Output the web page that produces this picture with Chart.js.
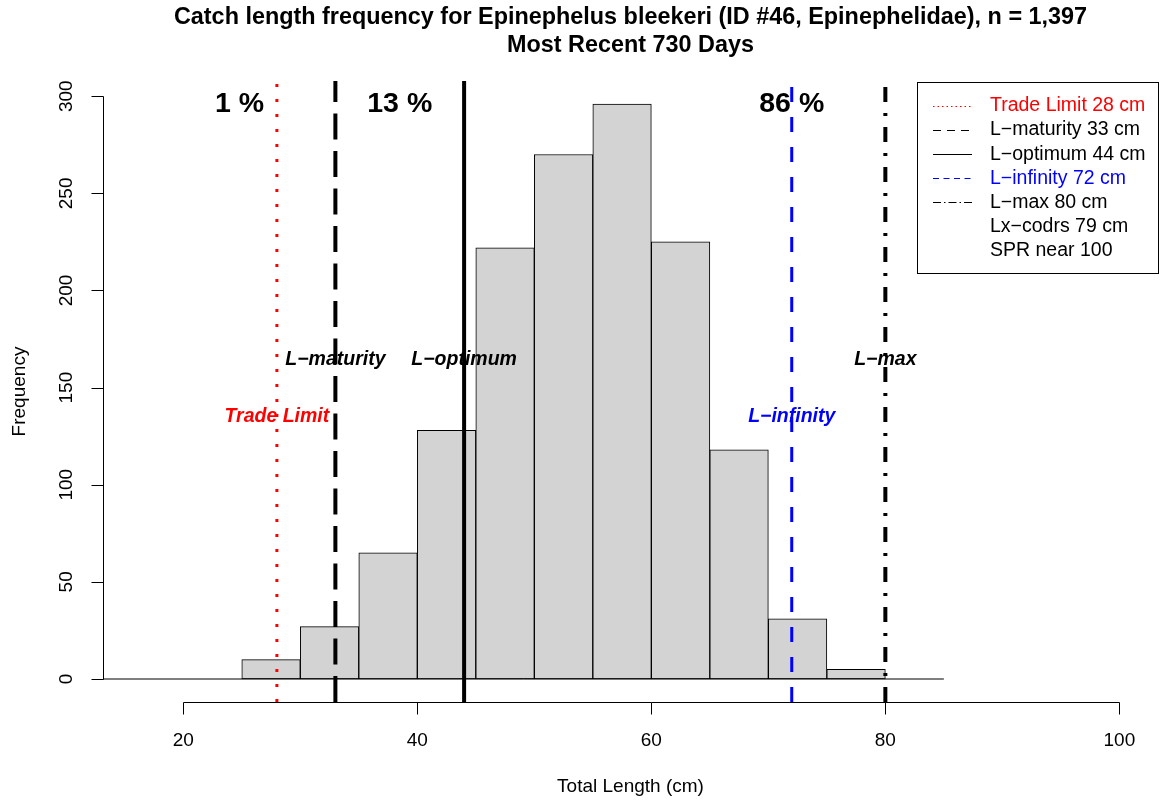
<!DOCTYPE html>
<html>
<head>
<meta charset="utf-8">
<script src="https://cdn.jsdelivr.net/npm/chart.js@4/dist/chart.umd.min.js"></script>
<style>
html,body{margin:0;padding:0;background:#fff;}
canvas{display:block;}
</style>
</head>
<body>
<canvas id="c" width="1163" height="803"></canvas>
<script>
// ---- data ----
const binStarts = [25, 30, 35, 40, 45, 50, 55, 60, 65, 70, 75];
const binWidth = 5;
const counts = [10, 27, 65, 128, 222, 270, 296, 225, 118, 31, 5];
const xTicks = [20, 40, 60, 80, 100];
const yTicks = [0, 50, 100, 150, 200, 250, 300];
const refNames = ['Trade Limit', 'L\u2212maturity', 'L\u2212optimum', 'L\u2212infinity', 'L\u2212max'];
const refValues = [28, 33, 44, 72, 80];
const refColors = ['#ff0000', '#000000', '#000000', '#0000ff', '#000000'];
const refLabelY = [135, 164.5, 164.5, 135, 164.5];
const zoneLabels = ['1 %', '13 %', '86 %'];
const zoneX = [24.8, 38.5, 72];
const legendTexts = ['Trade Limit 28 cm', 'L\u2212maturity 33 cm', 'L\u2212optimum 44 cm', 'L\u2212infinity 72 cm', 'L\u2212max 80 cm', 'Lx\u2212codrs 79 cm', 'SPR near 100'];
const legendColors = ['#ff0000', '#000000', '#000000', '#0000ff', '#000000', '#000000', '#000000'];
const baselineEnd = 85;
const titleLines = ['Catch length frequency for Epinephelus bleekeri (ID #46, Epinephelidae), n = 1,397', 'Most Recent 730 Days'];

// ---- styles ----
const X_MIN = 13.14, X_MAX = 103.3, Y_MIN = -11.84, Y_MAX = 307.84;
const FONT = '"Liberation Sans", Arial, Helvetica, sans-serif';
const refWidths = [3, 4, 4, 3, 4];
const refDash = [[3, 12], [26, 11.5], [], [15, 15], [15, 11, 3, 11]];
const legendDash = [[1.5, 3], [8, 6], [], [6, 4.5], [8, 3, 1.5, 3], null, null];

const datasets = [{
  type: 'bar',
  data: binStarts.map((s, i) => ({x: s + binWidth / 2, y: counts[i]})),
  backgroundColor: '#d3d3d3',
  borderColor: '#000000',
  borderWidth: 1,
  borderSkipped: false,
  barPercentage: 1,
  categoryPercentage: 1,
  order: 10
}, {
  type: 'line',
  data: [{x: X_MIN, y: 0}, {x: baselineEnd, y: 0}],
  borderColor: '#000', borderWidth: 1, pointRadius: 0, fill: false, order: 5, clip: 0
}];
refValues.forEach((v, i) => {
  datasets.push({
    type: 'line',
    data: [{x: v, y: Y_MIN}, {x: v, y: Y_MAX}],
    borderColor: refColors[i], borderWidth: refWidths[i], borderDash: refDash[i],
    borderCapStyle: 'butt', pointRadius: 0, fill: false, order: 1, clip: 0
  });
});

const overlay = {
  id: 'overlay',
  afterDraw(chart) {
    const ctx = chart.ctx;
    const xs = chart.scales.x, ys = chart.scales.y;
    const ca = chart.chartArea;
    ctx.save();
    ctx.strokeStyle = '#000';
    ctx.fillStyle = '#000';
    ctx.lineWidth = 1;
    // x axis
    const axY = ca.bottom + 0.5;
    ctx.beginPath();
    ctx.moveTo(Math.round(xs.getPixelForValue(xTicks[0])) + 0.5, axY);
    ctx.lineTo(Math.round(xs.getPixelForValue(xTicks[xTicks.length - 1])) + 0.5, axY);
    xTicks.forEach(t => {
      const px = Math.round(xs.getPixelForValue(t)) + 0.5;
      ctx.moveTo(px, axY); ctx.lineTo(px, axY + 12);
    });
    ctx.stroke();
    ctx.font = '19px ' + FONT;
    ctx.textAlign = 'center';
    ctx.textBaseline = 'middle';
    xTicks.forEach(t => ctx.fillText(String(t), xs.getPixelForValue(t), 741));
    // y axis
    const axX = ca.left + 0.5;
    ctx.beginPath();
    ctx.moveTo(axX, Math.round(ys.getPixelForValue(yTicks[0])) + 0.5);
    ctx.lineTo(axX, Math.round(ys.getPixelForValue(yTicks[yTicks.length - 1])) + 0.5);
    yTicks.forEach(t => {
      const py = Math.round(ys.getPixelForValue(t)) + 0.5;
      ctx.moveTo(axX, py); ctx.lineTo(axX - 12, py);
    });
    ctx.stroke();
    yTicks.forEach(t => {
      ctx.save();
      ctx.translate(67, ys.getPixelForValue(t));
      ctx.rotate(-Math.PI / 2);
      ctx.fillText(String(t), 0, 0);
      ctx.restore();
    });
    // axis titles
    ctx.fillText('Total Length (cm)', (ca.left + ca.right) / 2, 787);
    ctx.save();
    ctx.translate(20, (ca.top + ca.bottom) / 2);
    ctx.rotate(-Math.PI / 2);
    ctx.fillText('Frequency', 0, 0);
    ctx.restore();
    // title
    ctx.font = 'bold 23.4px ' + FONT;
    ctx.fillText(titleLines[0], (ca.left + ca.right) / 2, 18);
    ctx.fillText(titleLines[1], (ca.left + ca.right) / 2, 46);
    // zone percentages
    ctx.font = 'bold 28.5px ' + FONT;
    const maxCount = Math.max(...counts);
    zoneLabels.forEach((s, i) => ctx.fillText(s, xs.getPixelForValue(zoneX[i]), ys.getPixelForValue(maxCount)));
    // reference line labels
    ctx.font = 'italic bold 19.5px ' + FONT;
    refNames.forEach((s, i) => {
      ctx.fillStyle = refColors[i];
      ctx.fillText(s, xs.getPixelForValue(refValues[i]), ys.getPixelForValue(refLabelY[i]));
    });
    // legend
    const lx = 917.5, ly = 82.5, lw = 241, lh = 191;
    ctx.fillStyle = '#fff';
    ctx.fillRect(lx, ly, lw, lh);
    ctx.strokeStyle = '#000';
    ctx.lineWidth = 1;
    ctx.strokeRect(lx, ly, lw, lh);
    ctx.font = '19.5px ' + FONT;
    ctx.textAlign = 'left';
    legendTexts.forEach((s, i) => {
      const ry = 106 + i * 24.1;
      if (legendDash[i]) {
        ctx.save();
        ctx.strokeStyle = legendColors[i];
        ctx.setLineDash(legendDash[i]);
        ctx.beginPath();
        ctx.moveTo(933, Math.round(ry) + 0.5);
        ctx.lineTo(972, Math.round(ry) + 0.5);
        ctx.stroke();
        ctx.restore();
      }
      ctx.fillStyle = legendColors[i];
      ctx.fillText(s, 990, ry);
    });
    ctx.restore();
  }
};

new Chart(document.getElementById('c'), {
  type: 'bar',
  data: {datasets},
  options: {
    responsive: false,
    animation: false,
    devicePixelRatio: 1,
    layout: {padding: {left: 103, top: 81, right: 5, bottom: 101}},
    plugins: {legend: {display: false}, tooltip: {enabled: false}, title: {display: false}},
    scales: {
      x: {type: 'linear', min: X_MIN, max: X_MAX, display: false, offset: false},
      y: {type: 'linear', min: Y_MIN, max: Y_MAX, display: false}
    }
  },
  plugins: [overlay]
});
</script>
</body>
</html>
